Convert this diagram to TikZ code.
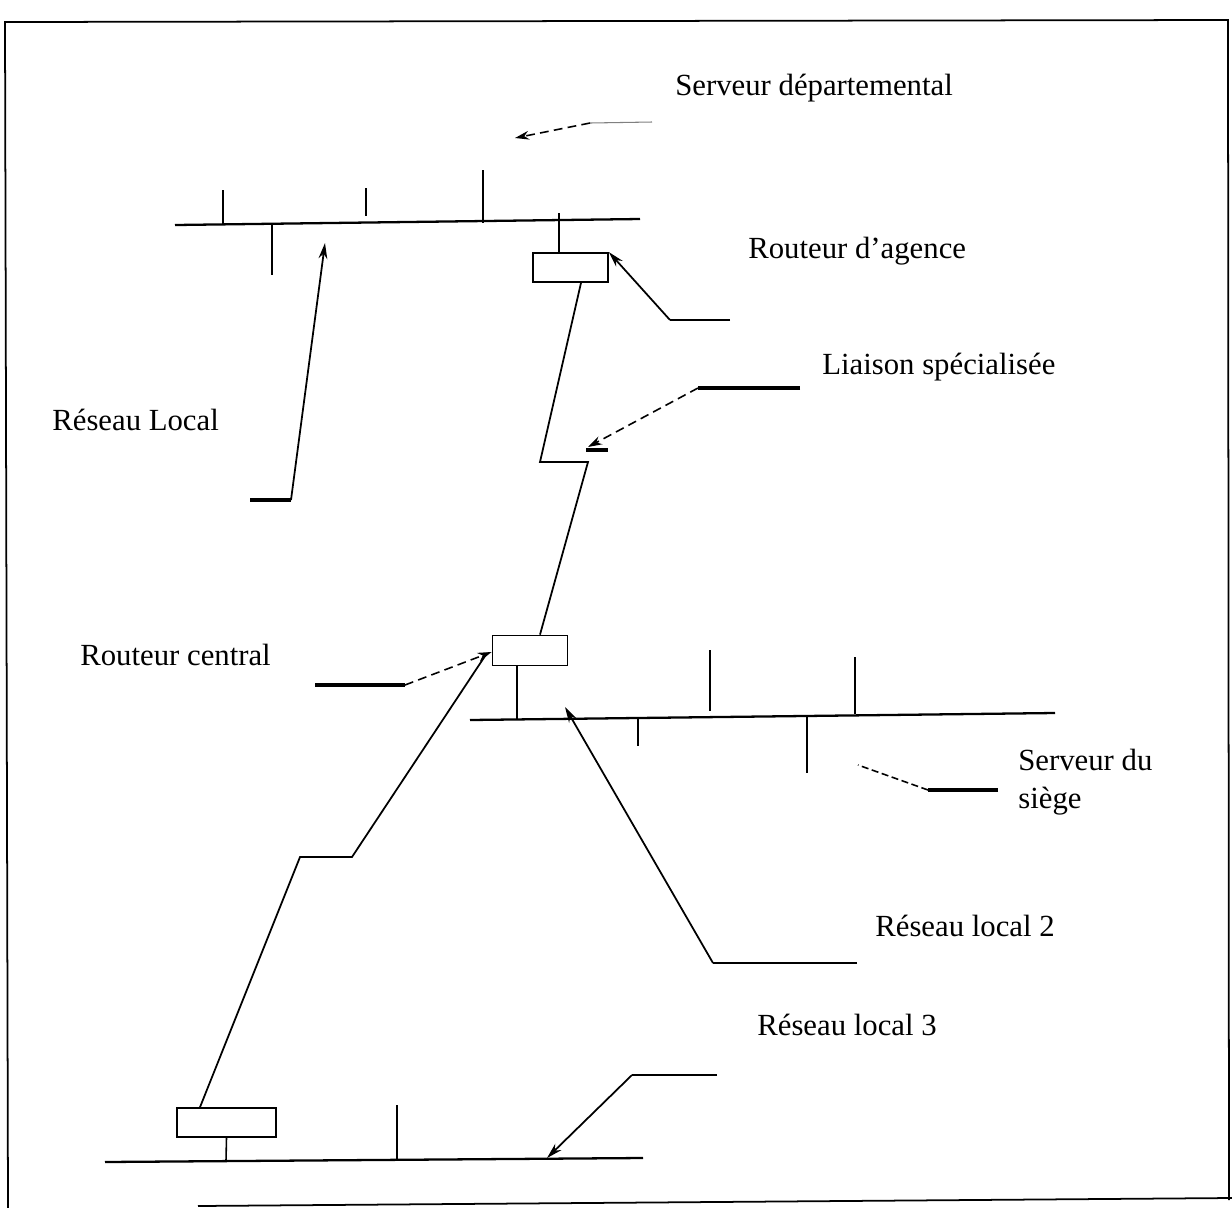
\documentclass[tikz,border=0pt]{standalone}
\usepackage{fontspec}
\setmainfont{Liberation Serif}
\usetikzlibrary{arrows.meta}
\begin{document}
\begin{tikzpicture}[x=0.02cm,y=-0.02cm,
  lan/.style={line width=1.3pt},
  stub/.style={line width=0.9pt},
  link/.style={line width=1pt},
  lead/.style={line width=2.2pt},
  arr/.style={line width=1pt,-{Stealth[length=9pt,width=5pt]}},
  darr/.style={line width=0.9pt,dashed,dash pattern=on 5pt off 3pt,-{Stealth[length=8pt,width=5pt]}},
  box/.style={draw,line width=1pt,rectangle,inner sep=0pt},
  lbl/.style={font=\fontsize{17.5}{21.5}\selectfont,anchor=base west,inner sep=0pt,align=left}]
\useasboundingbox (0,0) rectangle (1232,1208);
% frame
\draw[line width=1pt] (8,1208) -- (5,22) -- (1228,20) -- (1229,1200);
\draw[line width=1pt] (198,1206) -- (1232,1198);

% ---------- top LAN (agence) ----------
\coordinate (lanAw) at (175,225);
\coordinate (lanAe) at (640,219);
\draw[lan] (lanAw) -- (lanAe);
\draw[stub] (223,190) -- (223,224);
\draw[stub] (366,188) -- (366,216);
\draw[stub] (483,170) -- (483,223);
\draw[stub] (272,225) -- (272,275);
\node[box,minimum width=1.5cm,minimum height=0.58cm] (ra) at (570.5,267.5) {};
\draw[stub] (559,213) -- (ra.north -| 559,0);

% ---------- central router and LAN 2 ----------
\node[box,minimum width=1.5cm,minimum height=0.6cm] (rc) at (530,650.5) {};
\coordinate (lan2w) at (470,720);
\coordinate (lan2e) at (1055,713);
\draw[lan] (lan2w) -- (lan2e);
\draw[stub] (rc.south -| 517,0) -- (517,720);
\draw[stub] (710,650) -- (710,711);
\draw[stub] (855,657) -- (855,714);
\draw[stub] (638,718) -- (638,746);
\draw[stub] (807,716) -- (807,773);

% ---------- bottom router and LAN 3 ----------
\node[box,minimum width=1.98cm,minimum height=0.58cm] (rb) at (226.5,1122.5) {};
\coordinate (lan3w) at (105,1162);
\coordinate (lan3e) at (643,1158);
\draw[lan] (lan3w) -- (lan3e);
\draw[stub] (rb.south) -- (226,1161);
\draw[stub] (397,1105) -- (397,1160);

% ---------- links between routers ----------
\coordinate (k1) at (540,462);
\coordinate (k2) at (588,462);
\draw[link] (ra.south -| 581,0) -- (k1) -- (k2) -- (rc.north -| 540,0);
\coordinate (m1) at (352,857);
\coordinate (m2) at (300,857);
\draw[link] (487,653) -- (m1) -- (m2) -- (rb.north -| 200,0);

% ---------- labels and leaders ----------
\node[lbl] (tsd) at (675,95) {Serveur départemental};
\coordinate (sdA) at (652,122);
\coordinate (sdB) at (590,123);
\coordinate (sdC) at (515,138);
\draw[line width=0.6pt,gray] (sdA) -- (sdB);
\draw[darr] (sdB) -- (sdC);

\node[lbl] (tra) at (748,258) {Routeur d’agence};
\coordinate (raA) at (730,320);
\coordinate (raB) at (670,320);
\draw[link] (raA) -- (raB);
\draw[arr] (raB) -- (ra.north east);

\node[lbl] (tls) at (822,374) {Liaison spécialisée};
\coordinate (lsA) at (800,388);
\coordinate (lsB) at (698,388);
\coordinate (lsT) at (588,447);
\draw[lead] (lsA) -- (lsB);
\draw[darr] (lsB) -- (lsT);
\draw[line width=2.5pt] (586,450) -- (608,450);

\node[lbl] (trl) at (52,430) {Réseau Local};
\coordinate (rlA) at (250,500);
\coordinate (rlB) at (291,500);
\coordinate (rlT) at (325,243);
\draw[lead] (rlA) -- (rlB);
\draw[arr] (rlB) -- (rlT);

\node[lbl] (trc) at (80,665) {Routeur central};
\coordinate (rcA) at (315,685);
\coordinate (rcB) at (405,685);
\draw[lead] (rcA) -- (rcB);
\draw[darr] (rcB) -- (rc.west |- 0,652);

\node[lbl] (tss) at (1018,808) {Serveur du\\siège};
\coordinate (ssA) at (998,790);
\coordinate (ssB) at (928,790);
\coordinate (ssC) at (858,765);
\draw[lead] (ssA) -- (ssB);
\draw[line width=0.9pt,dashed,dash pattern=on 4pt off 2pt] (ssB) -- (ssC);

\node[lbl] (tr2) at (875,936) {Réseau local 2};
\coordinate (r2A) at (857,963);
\coordinate (r2B) at (713,963);
\coordinate (r2T) at (565,707);
\draw[link] (r2A) -- (r2B);
\draw[arr] (r2B) -- (r2T);

\node[lbl] (tr3) at (757,1035) {Réseau local 3};
\coordinate (r3A) at (717,1075);
\coordinate (r3B) at (632,1075);
\coordinate (r3T) at (547,1158);
\draw[link] (r3A) -- (r3B);
\draw[arr] (r3B) -- (r3T);
\end{tikzpicture}
\end{document}
